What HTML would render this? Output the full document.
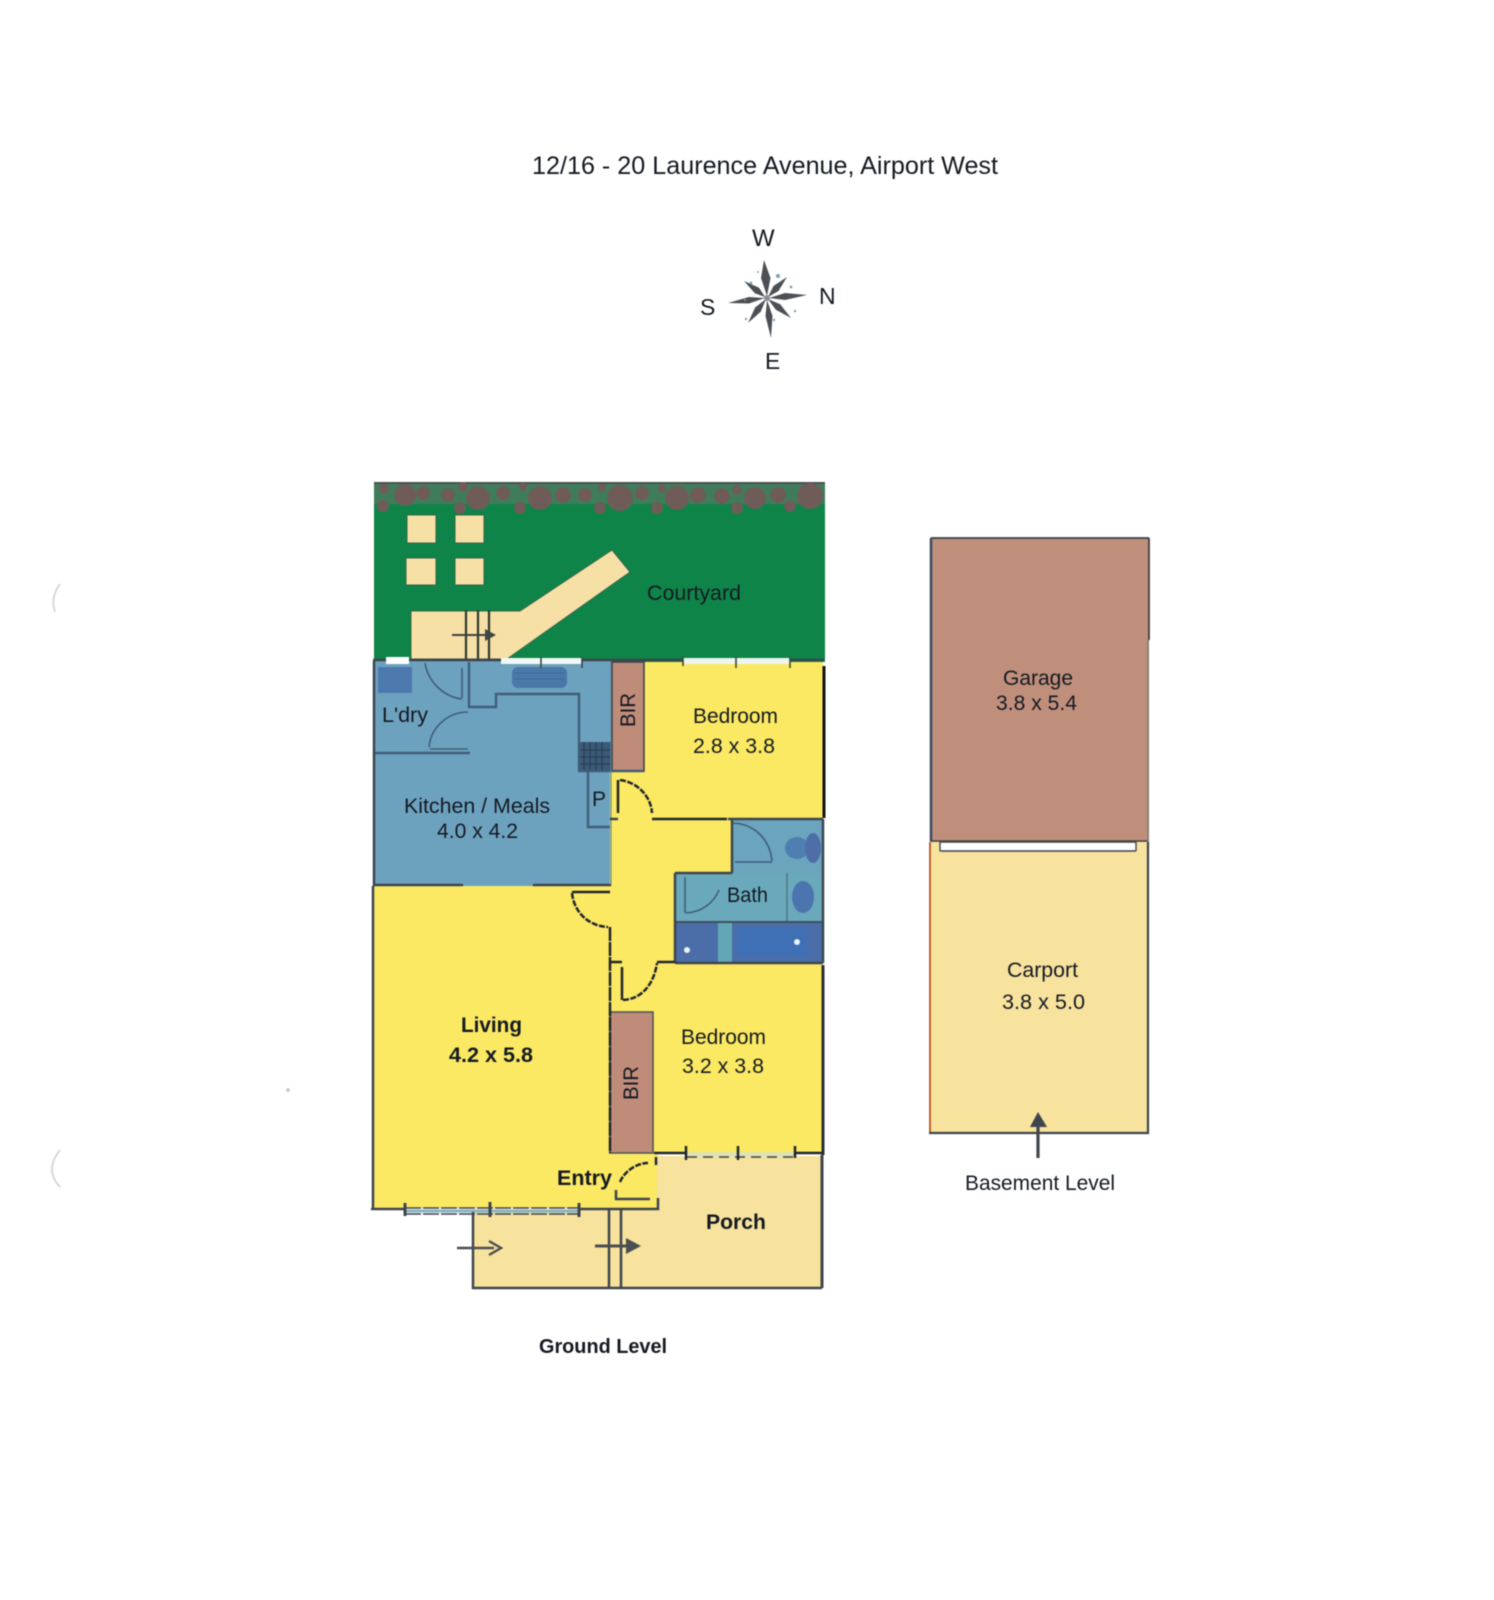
<!DOCTYPE html>
<html lang="en"><head><meta charset="utf-8"><title>12/16 - 20 Laurence Avenue, Airport West</title>
<style>
html,body{margin:0;padding:0;background:#fff}
svg{display:block;filter:blur(.5px)}
text{font-family:"Liberation Sans",sans-serif;fill:#141a22;font-size:21.5px}
.b{font-weight:bold}
.w{fill:none;stroke:#3d454d;stroke-width:2.5}
.k{fill:none;stroke:#20262c;stroke-width:2.5}
.a{fill:none;stroke:#3f5e78;stroke-width:2.4}
</style></head><body>
<svg width="1494" height="1600" viewBox="0 0 1494 1600" xmlns="http://www.w3.org/2000/svg">
<rect width="1494" height="1600" fill="#fff"/>
<!-- faint scan marks -->
<path d="M60 584Q50 597 55 612M60 1150Q44 1170 60 1187" fill="none" stroke="#d8d8d8" stroke-width="2"/>
<circle cx="288" cy="1090" r="2" fill="#ccc"/>

<text x="532" y="174" textLength="466" lengthAdjust="spacingAndGlyphs" style="font-size:25px">12/16 - 20 Laurence Avenue, Airport West</text>

<!-- compass -->
<text x="752" y="246" style="font-size:24px">W</text>
<text x="819" y="304" style="font-size:23px">N</text>
<text x="700" y="315" style="font-size:23px">S</text>
<text x="765" y="369" style="font-size:23px">E</text>
<g fill="#4c5054">
<polygon points="767,296 770.5,278 764,260 761,278"/>
<polygon points="768,297 778.5,291 787,277 773.5,286"/>
<polygon points="769,298 785,300 807,295 785,293"/>
<polygon points="768,299 775.8,309.7 791,318 780.2,304.3"/>
<polygon points="767,300 765.5,316 771,338 772.5,316"/>
<polygon points="766,299 755.2,307.4 748,323 760.8,311.6"/>
<polygon points="765,298 749,297 728,303 749,303.5"/>
<polygon points="765,297 754.9,293.3 744,281 759.1,287.7"/>
</g>
<circle cx="767" cy="298" r="3" fill="#8a9094"/>
<g fill="#7da0b5"><circle cx="745" cy="300" r="1"/><circle cx="758" cy="272" r="1"/><circle cx="778" cy="276" r="2"/><circle cx="791" cy="287" r="1.4"/><circle cx="795" cy="311" r="1.2"/><circle cx="746" cy="319" r="1.2"/><circle cx="774" cy="320" r="1.2"/><circle cx="751" cy="283" r="1.4"/></g>

<!-- courtyard -->
<rect x="374" y="482" width="451" height="180" fill="#0f8449"/>
<rect x="374" y="484" width="451" height="20" fill="#3f7d5a"/>
<rect x="374" y="482" width="451" height="2" fill="#4c4f4e"/>
<g fill="#6f5c58">
<circle cx="383" cy="506" r="6"/><circle cx="405" cy="495" r="11"/><circle cx="423" cy="493" r="7"/><circle cx="448" cy="495" r="7"/><circle cx="460" cy="508" r="6"/><circle cx="478" cy="498" r="12"/><circle cx="503" cy="493" r="7"/><circle cx="520" cy="508" r="6"/><circle cx="540" cy="498" r="12"/><circle cx="563" cy="495" r="8"/><circle cx="585" cy="495" r="7"/><circle cx="600" cy="508" r="6"/><circle cx="620" cy="498" r="13"/><circle cx="642" cy="493" r="7"/><circle cx="657" cy="508" r="6"/><circle cx="677" cy="498" r="12"/><circle cx="698" cy="495" r="8"/><circle cx="722" cy="496" r="8"/><circle cx="737" cy="508" r="6"/><circle cx="737" cy="490" r="5"/><circle cx="755" cy="498" r="11"/><circle cx="778" cy="495" r="8"/><circle cx="790" cy="506" r="6"/><circle cx="810" cy="496" r="13"/><circle cx="384" cy="489" r="5"/><circle cx="463" cy="487" r="5"/><circle cx="523" cy="487" r="4"/><circle cx="602" cy="488" r="4"/><circle cx="662" cy="489" r="4"/>
</g>
<!-- squares + path -->
<g fill="#f7e0a6" stroke="#35664a" stroke-width="1">
<rect x="407" y="515" width="29" height="28"/><rect x="455" y="515" width="29" height="28"/>
<rect x="406" y="558" width="30" height="27"/><rect x="455" y="558" width="29" height="27"/>
<polygon points="411,611 520,611 612,550 630,572 507,659 411,659"/>
</g>
<path d="M466 610V660M478 610V660M489 610V660" fill="none" stroke="#2c3a30" stroke-width="2.2"/>
<path d="M452 635H494" stroke="#3a4040" stroke-width="2"/><polygon points="485,629 496,635 485,641" fill="#3f4642"/>
<text x="647" y="600" textLength="94" lengthAdjust="spacingAndGlyphs">Courtyard</text>

<!-- rooms fill -->
<rect x="374" y="661" width="237" height="225" fill="#6da2bf"/>
<rect x="612" y="662" width="211" height="158" fill="#fbe863"/>
<rect x="374" y="886" width="236" height="322" fill="#fbe863"/>
<rect x="610" y="771" width="122" height="118" fill="#fbe863"/>
<rect x="610" y="873" width="65" height="92" fill="#fbe863"/>
<rect x="610" y="962" width="212" height="192" fill="#fbe863"/>
<rect x="606" y="1150" width="52" height="58" fill="#fbe863"/>
<!-- porch -->
<rect x="657" y="1156" width="165" height="132" fill="#f7e29e"/>
<rect x="473" y="1210" width="185" height="78" fill="#f7e29e"/>
<!-- BIR -->
<rect x="612" y="662" width="32" height="109" fill="#c08c7a" stroke="#3d454d" stroke-width="1.6"/>
<rect x="610" y="1012" width="43" height="141" fill="#c08c7a" stroke="#55575a" stroke-width="1.6"/>
<!-- Pantry stove etc -->
<rect x="578" y="742" width="33" height="29" fill="#3a5a78"/>
<path d="M584 742V771M590 742V771M596 742V771M602 742V771M578 750H610M578 757H610M578 764H610" stroke="#283c50" stroke-width="1"/>
<rect x="378" y="667" width="34" height="26" fill="#4d79ae"/>
<rect x="512" y="667" width="55" height="21" rx="6" fill="#4a78a9"/>
<path d="M515 673H564M515 679H564" stroke="#3f689a" stroke-width="1"/>
<!-- toilet room + bath -->
<rect x="732" y="820" width="90" height="53" fill="#6aa4bd"/>
<ellipse cx="797" cy="848" rx="12" ry="11" fill="#4f7eb0"/><ellipse cx="813" cy="848" rx="8" ry="15" fill="#4f6ea8"/>
<rect x="676" y="873" width="146" height="50" fill="#6aa9bb"/>
<rect x="786" y="873" width="2" height="49" fill="#59828f"/>
<ellipse cx="803" cy="897" rx="11" ry="16" fill="#4c74ae"/>
<rect x="676" y="922" width="146" height="41" fill="#4b6ea8"/>
<rect x="718" y="922" width="14" height="41" fill="#62a7b6"/>
<rect x="737" y="928" width="70" height="29" fill="#3f6fb4"/>
<circle cx="687" cy="950" r="3" fill="#e8f3fa"/><circle cx="797" cy="942" r="3" fill="#e8f3fa"/>
<path class="a" style="stroke-width:1.6" d="M685 877V913M686 913C703 912 714 902 719 890"/>
<path d="M676 922H822" stroke="#3f4f60" stroke-width="2"/>
<path class="a" style="stroke-width:1.6" d="M733 823C755 824 770 840 772 861M735 862H772"/>

<!-- kitchen walls -->
<path class="a" d="M469 662V707H496V694H579V771M375 753H470M588 771V827H610M578 771H644"/>
<path class="a" style="stroke-width:1.6" d="M425 663C428 682 444 697 462 699M462 668V698"/>
<path class="a" style="stroke-width:1.6" d="M429 747C431 727 448 712 468 712M430 749H468"/>
<!-- external walls -->
<path class="w" d="M373 660H612M612 660H824" stroke="#3d5a50"/>
<path class="w" d="M374 661V886" />
<path class="w" d="M374 885H463M533 885H611" />
<path d="M611 662V886" stroke="#5c7f92" stroke-width="1"/>
<!-- windows top -->
<rect x="386" y="657" width="23" height="7" fill="#fff"/>
<rect x="501" y="658" width="81" height="6" fill="#f2f7f7"/>
<rect x="683" y="658" width="107" height="6" fill="#eef5ef"/>
<path d="M541 657V668M582 657V668M683 657V666M736 657V668M790 657V668" stroke="#3a4a40" stroke-width="1.6"/>
<path d="M824 666V818" stroke="#111" stroke-width="3"/>
<!-- hall walls -->
<path class="k" d="M652 819H727"/>
<path class="w" d="M610 819H618M728 819H823M732 819V873M675 873H732M675 873V963M675 963H823M823 819V963" stroke-width="3"/>
<path class="k" d="M618 780V813" stroke-width="3"/>
<path class="k" d="M620 780C637 782 651 796 652 813" stroke-width="2" stroke-dasharray="6 1.5"/>
<path class="k" d="M572 892H610" stroke-width="3.4"/>
<path class="k" d="M572 893C574 912 588 926 608 927" stroke-width="2" stroke-dasharray="6 1.5"/>
<path class="k" d="M610 927V1153" stroke-width="2.4" stroke-dasharray="14 1"/>
<path class="k" d="M610 962H622M657 962H675" stroke-width="2.4"/>
<path class="k" d="M622 967V1000" stroke-width="3.4"/>
<path class="k" d="M623 1000C642 999 654 984 657 963" stroke-width="2" stroke-dasharray="6 1.5"/>
<!-- living walls -->
<path class="w" d="M373 886V1209" stroke-width="3.4"/>
<path class="w" d="M371 1209H405" stroke-width="4"/>
<path d="M405 1211H579" stroke="#8cb4c4" stroke-width="3"/>
<path d="M405 1208H579M405 1214H579" stroke="#3d454d" stroke-width="1.5" stroke-dasharray="16 2"/>
<path d="M405 1203V1216M490 1202V1217M579 1203V1217" stroke="#3d454d" stroke-width="3"/>
<path class="w" d="M579 1209H658V1198"/>
<path class="k" d="M656 1157V1165" stroke-width="3.5"/>
<path class="k" d="M620 1182C624 1172 636 1163 648 1163" stroke-width="2" stroke-dasharray="6 1.5"/>
<path class="w" d="M616 1190V1199H650"/>
<!-- bedroom 2 bottom window -->
<path class="k" d="M654 1153H687M795 1153H823" stroke-width="2.6"/>
<rect x="687" y="1152" width="108" height="5" fill="#dfe3b4"/>
<path d="M687 1157H795" stroke="#39413a" stroke-width="1.5" stroke-dasharray="10 6"/>
<path class="k" d="M686 1146V1160M738 1146V1160M795 1146V1158" stroke-width="2.6"/>
<path d="M823 965V1155" stroke="#2a3036" stroke-width="3"/>
<path d="M822 1155V1288" stroke="#3d454d" stroke-width="3"/>
<!-- porch walls -->
<path class="w" d="M473 1212V1288H822M609 1210V1288M621 1210V1288" stroke-width="3"/>
<!-- arrows -->
<path d="M457 1248H494" stroke="#4a4f50" stroke-width="2.4"/>
<path d="M489 1241L501 1248L489 1255" fill="none" stroke="#4a4f50" stroke-width="2.4"/>
<path d="M595 1246H628" stroke="#4a4f50" stroke-width="3"/>
<polygon points="626,1238 641,1246 626,1254" fill="#4a4f50"/>
<!-- labels -->
<text x="382" y="722" textLength="46" lengthAdjust="spacingAndGlyphs">L'dry</text>
<text x="693" y="723" textLength="85" lengthAdjust="spacingAndGlyphs">Bedroom</text>
<text x="693" y="753" textLength="82" lengthAdjust="spacingAndGlyphs">2.8 x 3.8</text>
<text transform="translate(635,727) rotate(-90)" textLength="34" lengthAdjust="spacingAndGlyphs">BIR</text>
<text x="592" y="806" textLength="14" lengthAdjust="spacingAndGlyphs">P</text>
<text x="404" y="813" textLength="146" lengthAdjust="spacingAndGlyphs">Kitchen / Meals</text>
<text x="437" y="838" textLength="81" lengthAdjust="spacingAndGlyphs">4.0 x 4.2</text>
<text x="727" y="902" textLength="41" lengthAdjust="spacingAndGlyphs">Bath</text>
<text class="b" x="461" y="1032" textLength="61" lengthAdjust="spacingAndGlyphs">Living</text>
<text class="b" x="449" y="1062" textLength="84" lengthAdjust="spacingAndGlyphs">4.2 x 5.8</text>
<text x="681" y="1044" textLength="85" lengthAdjust="spacingAndGlyphs">Bedroom</text>
<text x="682" y="1073" textLength="82" lengthAdjust="spacingAndGlyphs">3.2 x 3.8</text>
<text transform="translate(638,1100) rotate(-90)" textLength="34" lengthAdjust="spacingAndGlyphs">BIR</text>
<text class="b" x="557" y="1185" textLength="55" lengthAdjust="spacingAndGlyphs">Entry</text>
<text class="b" x="706" y="1229" textLength="60" lengthAdjust="spacingAndGlyphs">Porch</text>
<text class="b" x="539" y="1353" textLength="128" lengthAdjust="spacingAndGlyphs" style="font-size:20px">Ground Level</text>

<!-- basement -->
<rect x="931" y="538" width="218" height="304" fill="#c08f7c"/>
<path d="M931 538H1149M1149 538V640" fill="none" stroke="#3c3f44" stroke-width="1.8"/>
<path d="M931 538V841" stroke="#3b4a5c" stroke-width="2.5"/>
<path d="M1148 640V842" stroke="#8a7f78" stroke-width="2"/>
<rect x="930" y="842" width="217" height="290" fill="#f7e29e"/>
<path d="M930 842V1132" stroke="#b8561f" stroke-width="1.8"/>
<path d="M929 1133H1148V842" fill="none" stroke="#3d454d" stroke-width="2.2"/>
<path d="M930 841H1147" stroke="#444" stroke-width="1.6"/>
<rect x="940" y="842" width="196" height="9" rx="1" fill="#fff" stroke="#3d454d" stroke-width="1.4"/>
<path d="M1038 1126V1158" stroke="#3f474d" stroke-width="3.2"/>
<polygon points="1038,1112 1047,1127 1030,1127" fill="#3f474d"/>
<text x="1003" y="685" textLength="70" lengthAdjust="spacingAndGlyphs">Garage</text>
<text x="996" y="710" textLength="81" lengthAdjust="spacingAndGlyphs">3.8 x 5.4</text>
<text x="1007" y="977" textLength="71" lengthAdjust="spacingAndGlyphs">Carport</text>
<text x="1002" y="1009" textLength="83" lengthAdjust="spacingAndGlyphs">3.8 x 5.0</text>
<text x="965" y="1190" textLength="150" lengthAdjust="spacingAndGlyphs">Basement Level</text>
</svg>
</body></html>
